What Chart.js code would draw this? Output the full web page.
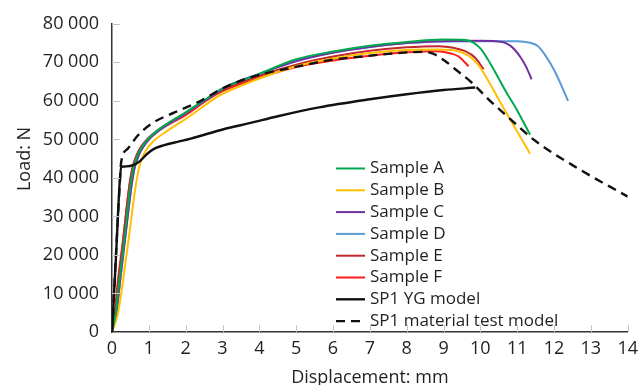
<!DOCTYPE html>
<html>
<head>
<meta charset="utf-8">
<script src="https://cdn.jsdelivr.net/npm/chart.js@4/dist/chart.umd.min.js"></script>
<style>
  html, body { margin: 0; padding: 0; background: #fff; }
  #wrap { width: 644px; height: 385px; position: relative; }
</style>
</head>
<body>
<div id="wrap"><canvas id="loadChart"></canvas></div>
<script>
// load (N) vs displacement (mm)
const seriesNames = ['Sample A', 'Sample B', 'Sample C', 'Sample D', 'Sample E', 'Sample F', 'SP1 YG model', 'SP1 material test model'];
const seriesColors = ['#00a94f', '#ffc000', '#7030a0', '#5b9bd5', '#c0282d', '#ff1a1a', '#111111', '#111111'];

const sampleA = [[0,0],[0.1,4700],[0.2,13300],[0.36,26200],[0.5,38000],[0.58,42500],[0.7,46000],[0.85,48500],[1,50300],[1.3,52800],[1.6,54700],[2,57000],[2.6,60800],[3,63200],[4,67000],[5,70800],[6,72800],[7,74300],[8,75300],[9,75900],[9.6,75800],[9.8,75200],[10,73600],[10.2,70800],[10.4,67500],[10.7,62300],[11,57500],[11.35,51200]];
const sampleB = [[0,0],[0.16,4700],[0.3,13300],[0.48,26200],[0.62,36400],[0.75,43300],[0.9,46800],[1.1,49300],[1.47,52000],[2.14,56200],[2.69,60000],[3,61800],[4,65800],[5,69000],[6,71000],[7,72400],[8,73200],[8.87,73300],[9.4,72900],[9.7,71600],[9.9,69800],[10.04,68000],[10.62,58300],[11.35,46300]];
const sampleC = [[0,0],[0.12,4700],[0.22,13300],[0.38,26200],[0.53,38000],[0.61,42500],[0.73,46000],[0.88,48500],[1.03,50300],[1.3,52500],[1.6,54400],[2,56800],[2.6,60600],[3,63200],[4,67000],[5,70300],[6,72500],[7,74000],[8,75000],[9,75500],[10,75600],[10.6,75300],[10.8,74400],[10.94,73200],[11.1,71200],[11.25,68700],[11.39,65600]];
const sampleD = [[0,0],[0.12,4700],[0.22,13300],[0.38,26200],[0.53,38000],[0.61,42500],[0.73,46000],[0.88,48500],[1.03,50300],[1.3,52500],[1.6,54400],[2,56800],[2.6,60600],[3,63200],[4,67000],[5,70500],[6,72600],[7,74000],[8,75000],[9,75400],[10,75500],[11,75500],[11.35,75100],[11.55,74300],[11.75,72000],[12.03,67500],[12.38,60000]];
const sampleE = [[0,0],[0.08,4700],[0.18,13300],[0.33,26200],[0.47,38000],[0.55,42500],[0.67,46000],[0.82,48500],[1,50500],[1.3,52800],[1.6,54600],[2,56900],[2.6,60600],[3,62800],[4,66500],[5,69400],[6,71500],[7,73000],[8,73900],[8.87,74200],[9.3,73700],[9.59,72900],[9.86,71200],[10.09,68200]];
const sampleF = [[0,0],[0.07,4700],[0.16,13300],[0.3,24000],[0.45,36400],[0.55,42000],[0.65,45300],[0.79,47800],[0.93,49400],[1.24,52000],[1.6,54200],[2,56300],[2.6,60300],[3,62500],[4,66000],[5,68800],[6,70500],[7,71700],[8,72600],[8.8,72900],[9.2,72300],[9.41,71500],[9.68,69000]];
const ygModel = [[0,0],[0.1,18000],[0.21,39000],[0.25,42900],[0.4,43000],[0.57,43300],[0.75,44300],[0.95,46200],[1.15,47600],[1.42,48500],[1.8,49400],[2.14,50200],[3.05,52700],[3.73,54200],[4.5,56000],[5.62,58300],[7,60400],[8,61700],[9,62800],[9.86,63450]];
const materialModel = [[0,0],[0.22,40000],[0.25,44200],[0.43,47600],[0.7,51000],[1.06,54000],[1.7,57000],[2.41,60000],[2.96,63000],[3.73,66000],[5.08,69000],[6,70700],[6.89,71600],[7.5,72200],[8.4,72700],[8.7,72300],[9.05,70300],[9.32,68200],[9.77,64700],[10.22,60400],[10.76,55700],[11.48,49700],[12.66,42400],[14,35150]];

const allSeries = [sampleA, sampleB, sampleC, sampleD, sampleE, sampleF, ygModel, materialModel];

const xMin = 0, xMax = 14, xStep = 1;
const yMin = 0, yMax = 80000, yStep = 10000;

const font = "'Open Sans', 'Noto Sans', sans-serif";
const textColor = '#231f20';

function spaced(v) {
    return String(v).replace(/\B(?=(\d{3})+(?!\d))/g, ' ');
}

const datasets = allSeries.map(function (pts, i) {
    const isModel = i >= 6;
    return {
        label: seriesNames[i],
        data: pts.map(p => ({ x: p[0], y: p[1] })),
        borderColor: seriesColors[i],
        borderWidth: isModel ? 2.4 : 2,
        borderDash: i === 7 ? [9, 6] : [],
        pointRadius: 0,
        fill: false,
        showLine: true,
        cubicInterpolationMode: 'monotone',
        order: isModel ? 0 : 1
    };
});

// small grey ticks pointing into the plot, y title and the inside legend
const extras = {
    id: 'extras',
    afterDraw(chart) {
        const ctx = chart.ctx;
        const xs = chart.scales.x, ys = chart.scales.y;
        const area = chart.chartArea;
        ctx.save();
        ctx.strokeStyle = '#c4c4c4';
        ctx.lineWidth = 1;
        ys.ticks.forEach(function (t) {
            if (t.value === 0) return;
            const py = Math.round(ys.getPixelForValue(t.value)) + 0.5;
            ctx.beginPath();
            ctx.moveTo(area.left, py);
            ctx.lineTo(area.left + 8, py);
            ctx.stroke();
        });
        xs.ticks.forEach(function (t) {
            if (t.value === 0) return;
            const px = Math.round(xs.getPixelForValue(t.value)) + 0.5;
            ctx.beginPath();
            ctx.moveTo(px, area.bottom);
            ctx.lineTo(px, area.bottom - 7);
            ctx.stroke();
        });

        // y axis title
        ctx.fillStyle = textColor;
        ctx.font = '18px ' + font;
        ctx.textAlign = 'center';
        ctx.textBaseline = 'middle';
        ctx.translate(25, 159);
        ctx.rotate(-Math.PI / 2);
        ctx.fillText('Load: N', 0, 0);
        ctx.restore();

        // legend
        ctx.save();
        ctx.font = '17px ' + font;
        ctx.textAlign = 'left';
        ctx.textBaseline = 'middle';
        chart.data.datasets.forEach(function (ds, i) {
            const y = 168.5 + i * 21.8;
            ctx.strokeStyle = ds.borderColor;
            ctx.lineWidth = ds.borderWidth;
            ctx.setLineDash(ds.borderDash);
            ctx.beginPath();
            ctx.moveTo(336, y);
            ctx.lineTo(365, y);
            ctx.stroke();
            ctx.setLineDash([]);
            ctx.fillStyle = textColor;
            ctx.fillText(ds.label, 370, y);
        });
        ctx.restore();
    }
};

new Chart(document.getElementById('loadChart').getContext('2d'), {
    type: 'line',
    data: { datasets: datasets },
    options: {
        responsive: true,
        maintainAspectRatio: false,
        animation: false,
        layout: { padding: { top: 21, right: 14, left: 0, bottom: 0 } },
        plugins: {
            legend: { display: false },
            tooltip: { enabled: false }
        },
        scales: {
            x: {
                type: 'linear',
                min: xMin,
                max: xMax,
                afterFit: function (scale) { scale.height = 53; },
                ticks: {
                    stepSize: xStep,
                    color: textColor,
                    padding: 6,
                    font: { family: font, size: 18 }
                },
                grid: { drawOnChartArea: false, drawTicks: false },
                border: { color: '#333', width: 1.5 },
                title: {
                    display: true,
                    text: 'Displacement: mm',
                    color: textColor,
                    font: { family: font, size: 18 },
                    padding: { top: 0, bottom: -4 }
                }
            },
            y: {
                min: yMin,
                max: yMax,
                afterFit: function (scale) { scale.width = 112; },
                ticks: {
                    stepSize: yStep,
                    color: textColor,
                    padding: 13,
                    font: { family: font, size: 18 },
                    callback: function (value) { return spaced(value); }
                },
                grid: { drawOnChartArea: false, drawTicks: false },
                border: { color: '#333', width: 1.5 }
            }
        }
    },
    plugins: [extras]
});
</script>
</body>
</html>
